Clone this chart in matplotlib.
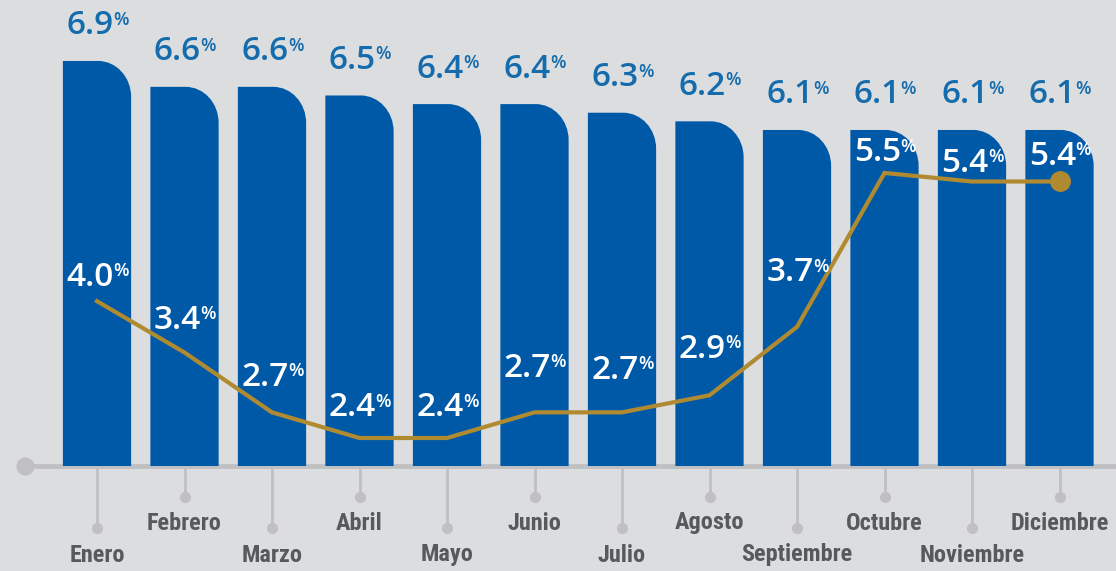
import matplotlib
matplotlib.use("Agg")
import matplotlib.pyplot as plt
from matplotlib.path import Path
from matplotlib.patches import PathPatch
from matplotlib import font_manager

# Data
months = ["Enero", "Febrero", "Marzo", "Abril", "Mayo", "Junio", "Julio",
          "Agosto", "Septiembre", "Octubre", "Noviembre", "Diciembre"]
bar_values = [6.9, 6.6, 6.6, 6.5, 6.4, 6.4, 6.3, 6.2, 6.1, 6.1, 6.1, 6.1]
line_values = [4.0, 3.4, 2.7, 2.4, 2.4, 2.7, 2.7, 2.9, 3.7, 5.5, 5.4, 5.4]

# label placement (pixels above each line point)
line_label_dy = [24, 32, 35, 30, 30, 44, 42, 46, 54, 20, 18, 25]

BG = "#dcdddf"
BLUE = "#0059a7"
LABEL_BLUE = "#146cad"
GOLD = "#b08a30"
GRAY = "#c0c0c2"
TEXT_GRAY = "#58595b"
NUM_FONT = "Open Sans"

# pick a narrow face for the month names if one is around
names = {f.name for f in font_manager.fontManager.ttflist}
MONTH_FONT = "DejaVu Sans"
for cand in ["Liberation Sans Narrow", "DejaVu Sans Condensed", "Roboto Condensed"]:
    if cand in names:
        MONTH_FONT = cand
        break

W, H = 1116, 571
BASE = 105  # baseline, px from bottom
BAR_FLOOR = 2.204
LINE_FLOOR = 2.0725

fig = plt.figure(figsize=(W / 100, H / 100), dpi=100, facecolor=BG)
ax = fig.add_axes([0, BASE / H, 1, (H - BASE) / H])
ax.set_facecolor("none")
ax.set_xlim(-97 / 87.5, (W - 97) / 87.5)
ax.set_ylim(BAR_FLOOR, BAR_FLOOR + (H - BASE) / 86.25)
ax.axis("off")

x = list(range(len(months)))

# baseline with dot at left end
ax.plot([(25 - 97) / 87.5, 12], [BAR_FLOOR, BAR_FLOOR], color=GRAY, lw=3.5,
        clip_on=False, zorder=1, solid_capstyle="butt")
ax.plot([(25 - 97) / 87.5], [BAR_FLOOR], "o", color=GRAY, ms=12, clip_on=False, zorder=1)

bars = ax.bar(x, [v - BAR_FLOOR for v in bar_values], bottom=BAR_FLOOR,
              width=0.78, color=BLUE, zorder=2)

# rounded top-right corner on every bar
fig.canvas.draw()
p0 = ax.transData.transform((0, 0))
p1 = ax.transData.transform((1, 1))
rx = 33 / (p1[0] - p0[0])
ry = 36 / (p1[1] - p0[1])
k = 0.5523
for rect in bars:
    x0, y0 = rect.get_x(), rect.get_y()
    x1, y1 = x0 + rect.get_width(), y0 + rect.get_height()
    verts = [(x0, y0), (x0, y1), (x1 - rx, y1),
             (x1 - rx + k * rx, y1), (x1, y1 - ry + k * ry), (x1, y1 - ry),
             (x1, y0), (x0, y0)]
    codes = [Path.MOVETO, Path.LINETO, Path.LINETO,
             Path.CURVE4, Path.CURVE4, Path.CURVE4,
             Path.LINETO, Path.CLOSEPOLY]
    rect.set_visible(False)
    ax.add_patch(PathPatch(Path(verts, codes), facecolor=BLUE, edgecolor="none", zorder=2))


def pct_label(axis, xi, yi, value, color, dy):
    axis.annotate(f"{value:.1f}", (xi, yi), xytext=(-7, dy), textcoords="offset pixels",
                  ha="center", va="center", fontsize=24, color=color,
                  family=NUM_FONT, fontweight="semibold", zorder=5)
    axis.annotate("%", (xi, yi), xytext=(16, dy + 6), textcoords="offset pixels",
                  ha="left", va="center", fontsize=13, color=color,
                  family=NUM_FONT, fontweight="semibold", zorder=5)


for xi, v in zip(x, bar_values):
    pct_label(ax, xi, v, v, LABEL_BLUE, 35)

# line series on its own scale
ax2 = ax.twinx()
ax2.set_position(ax.get_position())
ax2.set_ylim(LINE_FLOOR, LINE_FLOOR + (H - BASE) / 85.5)
ax2.axis("off")
ax2.plot(x, line_values, color=GOLD, lw=3, zorder=3, solid_joinstyle="miter")
ax2.plot([x[-1]], [line_values[-1]], "o", color=GOLD, ms=14, zorder=3)
for xi, v, dy in zip(x, line_values, line_label_dy):
    pct_label(ax2, xi, v, v, "white", dy)

# tick stems, dots and month labels
for i, m in enumerate(months):
    drop = 31 if i % 2 else 62
    text_off = 57 if i % 2 else 89
    ax.plot([i, i], [BAR_FLOOR, BAR_FLOOR - drop / 86.25], color=GRAY, lw=2,
            clip_on=False, zorder=1)
    ax.plot([i], [BAR_FLOOR - drop / 86.25], "o", color=GRAY, ms=7, clip_on=False, zorder=1)
    ax.annotate(m, (i, BAR_FLOOR), xytext=(0, -text_off), textcoords="offset pixels",
                ha="center", va="center", fontsize=17.5, fontweight="bold",
                color=TEXT_GRAY, family=MONTH_FONT, annotation_clip=False)

fig.savefig("out.png", dpi=100, facecolor=BG)
